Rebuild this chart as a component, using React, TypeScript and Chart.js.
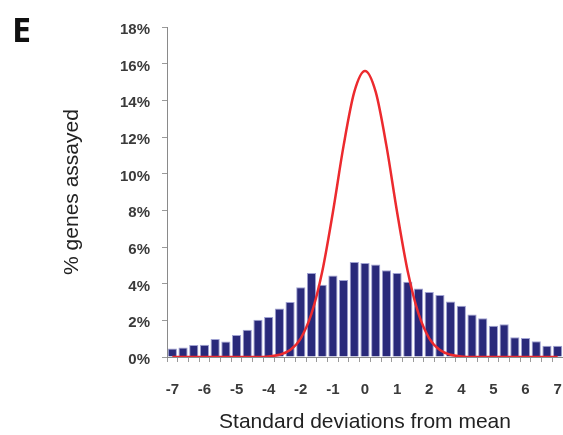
import React, { useEffect, useRef } from 'react';
import { Chart, registerables } from 'chart.js';

Chart.register(...registerables);

// Category bins (standard deviations from mean); every third bin carries a tick label
const categories = [
  '-7', '', '', '-6', '', '', '-5', '', '', '-4', '', '', '-2', '', '', '-1', '', '',
  '0', '', '', '1', '', '', '2', '', '', '4', '', '', '5', '', '', '6', '', '', '7',
];

// Observed distribution (% genes assayed)
const observed = [
  0.47, 0.52, 0.65, 0.67, 0.98, 0.85, 1.2, 1.49, 2.03, 2.18,
  2.65, 3.0, 3.8, 4.58, 3.94, 4.45, 4.2, 5.18, 5.13, 5.05,
  4.73, 4.58, 4.1, 3.74, 3.54, 3.38, 3.03, 2.8, 2.32, 2.12,
  1.7, 1.78, 1.08, 1.04, 0.86, 0.62, 0.62,
];

// Expected normal distribution (%)
const expected = [
  0, 0, 0, 0, 0, 0, 0, 0, 0, 0.03,
  0.12, 0.38, 1.02, 2.36, 4.65, 7.9, 11.53, 14.46, 15.6, 14.46,
  11.53, 7.9, 4.65, 2.36, 1.02, 0.38, 0.12, 0.03, 0, 0,
  0, 0, 0, 0, 0, 0, 0,
];

const yTicks = [0, 2, 4, 6, 8, 10, 12, 14, 16, 18];

const panelLetter = {
  id: 'panelLetter',
  afterDraw(chart: any) {
    const ctx = chart.ctx;
    ctx.save();
    ctx.fillStyle = '#111';
    ctx.font = 'bold 34px "Open Sans", "Liberation Sans", sans-serif';
    ctx.textBaseline = 'alphabetic';
    ctx.textAlign = 'left';
    ctx.fillText('E', 12, 42);
    ctx.restore();
  },
};

export default function App() {
  const ref = useRef<HTMLCanvasElement>(null);

  useEffect(() => {
    if (!ref.current) return;
    const tickFont = { family: '"Liberation Sans", Arial, sans-serif', size: 15, weight: 'bold' as const };
    const titleFont = { family: '"Liberation Sans", Arial, sans-serif', size: 21, weight: 'normal' as const };
    const chart = new Chart(ref.current, {
      type: 'bar',
      data: {
        labels: categories,
        datasets: [
          {
            type: 'line' as const,
            label: 'Expected',
            data: expected,
            borderColor: '#ec2a2e',
            borderWidth: 2.5,
            pointRadius: 0,
            cubicInterpolationMode: 'monotone' as const,
            fill: false,
            order: 0,
          },
          {
            type: 'bar' as const,
            label: 'Observed',
            data: observed,
            backgroundColor: '#29297a',
            borderColor: 'rgba(150,152,205,0.9)',
            borderWidth: 1,
            barPercentage: 0.86,
            categoryPercentage: 1,
            order: 1,
          },
        ],
      },
      options: {
        responsive: false,
        animation: false,
        layout: { padding: { top: 27, right: 0, bottom: 0, left: 0 } },
        plugins: {
          legend: { display: false },
          tooltip: { enabled: false },
        },
        scales: {
          x: {
            offset: true,
            grid: {
              display: true,
              drawOnChartArea: false,
              drawTicks: true,
              tickLength: 5,
              color: '#9a9a9a',
              offset: true,
            },
            border: { display: true, color: '#8a8a8a', width: 1 },
            ticks: {
              autoSkip: false,
              maxRotation: 0,
              minRotation: 0,
              padding: 19,
              color: '#3a3a3a',
              font: tickFont,
            },
            title: {
              display: true,
              text: 'Standard deviations from mean',
              color: '#222',
              font: titleFont,
              padding: { top: 0, bottom: 0 },
            },
            afterFit: (s: any) => {
              s.height = 78;
              s.paddingLeft = 0;
              s.paddingRight = 0;
            },
          },
          y: {
            min: 0,
            max: 18,
            afterBuildTicks: (s: any) => {
              s.ticks = yTicks.map((v) => ({ value: v }));
            },
            grid: {
              display: true,
              drawOnChartArea: false,
              drawTicks: true,
              tickLength: 5,
              color: '#9a9a9a',
            },
            border: { display: true, color: '#8a8a8a', width: 1 },
            ticks: {
              padding: 12,
              labelOffset: 3,
              color: '#3a3a3a',
              font: tickFont,
              callback: (v: any) => `${v}%`,
            },
            title: {
              display: true,
              text: '% genes assayed',
              color: '#222',
              font: titleFont,
              padding: { top: 60, bottom: 0 },
            },
            afterFit: (s: any) => {
              s.width = 167;
            },
          },
        },
      },
      plugins: [panelLetter],
    });
    return () => chart.destroy();
  }, []);

  return (
    <div style={{ position: 'absolute', left: 0, top: 0, width: 563, height: 435, background: '#fff' }}>
      <canvas ref={ref} width={563} height={435} style={{ display: 'block', width: 563, height: 435 }} />
    </div>
  );
}
